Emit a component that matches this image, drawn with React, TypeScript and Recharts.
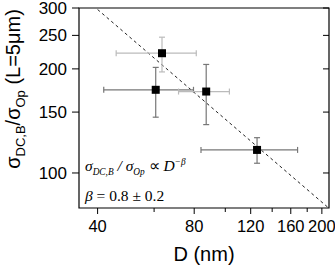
import React from 'react';
import {
  ScatterChart,
  Scatter,
  XAxis,
  YAxis,
  ErrorBar,
  ReferenceLine,
  ReferenceArea,
} from 'recharts';

// ---------------------------------------------------------------------------
// Data (log-log axes)
// ---------------------------------------------------------------------------

const diameters = [60.7, 63.5, 87.2, 125.6];
const ratios = [174, 222, 172, 116.6];
const dLow = [41.8, 45.7, 71.5, 84];
const dHigh = [79.6, 81.2, 103, 168];
const rLow = [145, 196, 138, 106.7];
const rHigh = [202, 247, 206, 126.5];
const xBarColor = ['#777', '#bbb', '#bbb', '#777'];
const yBarColor = ['#777', '#bbb', '#777', '#777'];

// dashed power-law fit, end points
const fitD = [40, 210];
const fitRatio = [297, 79.2];

const xTicks = [40, 60, 80, 100, 120, 140, 160, 180, 200];
const xLabelled = [40, 80, 120, 160, 200];
const yTicks = [100, 150, 200, 250, 300];

const xDomain = [35, 210.5];
const yDomain = [79.2, 300];

// ---------------------------------------------------------------------------
// Styles
// ---------------------------------------------------------------------------

const sans = '"Liberation Sans", Arial, sans-serif';
const serif = '"Liberation Serif", "Times New Roman", serif';

const rows = diameters.map((d, i) => ({
  d,
  r: ratios[i],
  ex: [d - dLow[i], dHigh[i] - d],
  ey: [ratios[i] - rLow[i], rHigh[i] - ratios[i]],
}));

function Square(props: { cx?: number; cy?: number }) {
  const { cx = 0, cy = 0 } = props;
  return <rect x={cx - 4} y={cy - 4} width={8} height={8} fill="#000" />;
}

// tick renderers: major ticks longer than minor ones
function BottomTick({ x, y, payload }: any) {
  const major = xLabelled.includes(payload.value);
  return (
    <g>
      <line x1={x} x2={x} y1={y} y2={y + (major ? 6 : 4)} stroke="#000" />
      {major && (
        <text x={x} y={y + 12} dy="0.71em" textAnchor="middle" fontSize={16.5} fontFamily={sans} fill="#000">
          {payload.value}
        </text>
      )}
    </g>
  );
}

function TopTick({ x, y, payload }: any) {
  const major = xLabelled.includes(payload.value);
  return <line x1={x} x2={x} y1={y} y2={y + (major ? 6 : 4)} stroke="#000" />;
}

function RightTick({ x, y }: any) {
  return <line x1={x} x2={x - 6} y1={y} y2={y} stroke="#000" />;
}

export default function App() {
  return (
    <div style={{ position: 'absolute', left: 0, top: 0, width: 335, height: 271, background: '#fff' }}>
      <ScatterChart width={335} height={271} margin={{ top: 7, right: 5, bottom: 0, left: 0 }}>
        <XAxis
          dataKey="d"
          type="number"
          scale="log"
          domain={xDomain}
          allowDataOverflow
          ticks={xTicks}
          interval={0}
          tick={<BottomTick />}
          tickLine={false}
          axisLine={false}
          tickSize={0}
          tickMargin={0}
          height={63}
          label={{ value: 'D (nm)', position: 'insideBottom', offset: 10, fontSize: 20, fill: '#000', fontFamily: sans }}
        />
        <XAxis
          xAxisId="top"
          orientation="top"
          type="number"
          scale="log"
          domain={xDomain}
          allowDataOverflow
          ticks={xTicks}
          interval={0}
          tick={<TopTick />}
          tickLine={false}
          axisLine={false}
          tickSize={0}
          tickMargin={0}
          height={1}
        />
        <YAxis
          dataKey="r"
          type="number"
          scale="log"
          domain={yDomain}
          allowDataOverflow
          ticks={yTicks}
          interval={0}
          tick={{ fontSize: 17, fill: '#000', fontFamily: sans }}
          tickLine={{ stroke: '#000' }}
          axisLine={false}
          tickSize={7}
          tickMargin={5}
          width={79}
        />
        <YAxis
          yAxisId="right"
          orientation="right"
          type="number"
          scale="log"
          domain={yDomain}
          allowDataOverflow
          ticks={yTicks}
          interval={0}
          tick={<RightTick />}
          tickLine={false}
          axisLine={false}
          tickSize={0}
          tickMargin={0}
          width={1}
        />

        {/* plot frame */}
        <ReferenceArea
          x1={xDomain[0]}
          x2={xDomain[1]}
          y1={yDomain[0]}
          y2={yDomain[1]}
          fill="none"
          fillOpacity={0}
          stroke="#000"
          strokeWidth={1.2}
          ifOverflow="visible"
        />

        <ReferenceLine
          segment={[
            { x: fitD[0], y: fitRatio[0] },
            { x: fitD[1], y: fitRatio[1] },
          ]}
          stroke="#222"
          strokeDasharray="3 3"
          strokeWidth={1}
        />

        {rows.map((row, i) => (
          <Scatter key={i} data={[row]} shape={<Square />} isAnimationActive={false}>
            <ErrorBar dataKey="ex" direction="x" width={3} stroke={xBarColor[i]} strokeWidth={1.2} isAnimationActive={false} />
            <ErrorBar dataKey="ey" direction="y" width={3} stroke={yBarColor[i]} strokeWidth={1.2} isAnimationActive={false} />
          </Scatter>
        ))}
      </ScatterChart>

      {/* y axis title, rotated */}
      <div
        style={{
          position: 'absolute',
          left: 15,
          top: 89,
          transform: 'translate(-50%, -50%) rotate(-90deg)',
          whiteSpace: 'nowrap',
          fontFamily: sans,
          fontSize: 20,
          lineHeight: 1,
          color: '#000',
        }}
      >
        σ<sub style={{ fontSize: '0.65em' }}>DC,B</sub>/σ<sub style={{ fontSize: '0.65em' }}>Op</sub> (L=5μm)
      </div>

      {/* fit annotation */}
      <div
        style={{
          position: 'absolute',
          left: 85,
          top: 150,
          fontFamily: serif,
          fontStyle: 'italic',
          fontSize: 15.5,
          lineHeight: '24px',
          color: '#000',
          whiteSpace: 'nowrap',
        }}
      >
        <div>
          σ<sub style={{ fontSize: '0.6em' }}>DC,B</sub> / σ<sub style={{ fontSize: '0.6em' }}>Op</sub>{' '}
          <span style={{ fontStyle: 'normal' }}>∝</span> D<sup style={{ fontSize: '0.6em' }}>−β</sup>
        </div>
        <div>
          β <span style={{ fontStyle: 'normal' }}>= 0.8 ± 0.2</span>
        </div>
      </div>
    </div>
  );
}
